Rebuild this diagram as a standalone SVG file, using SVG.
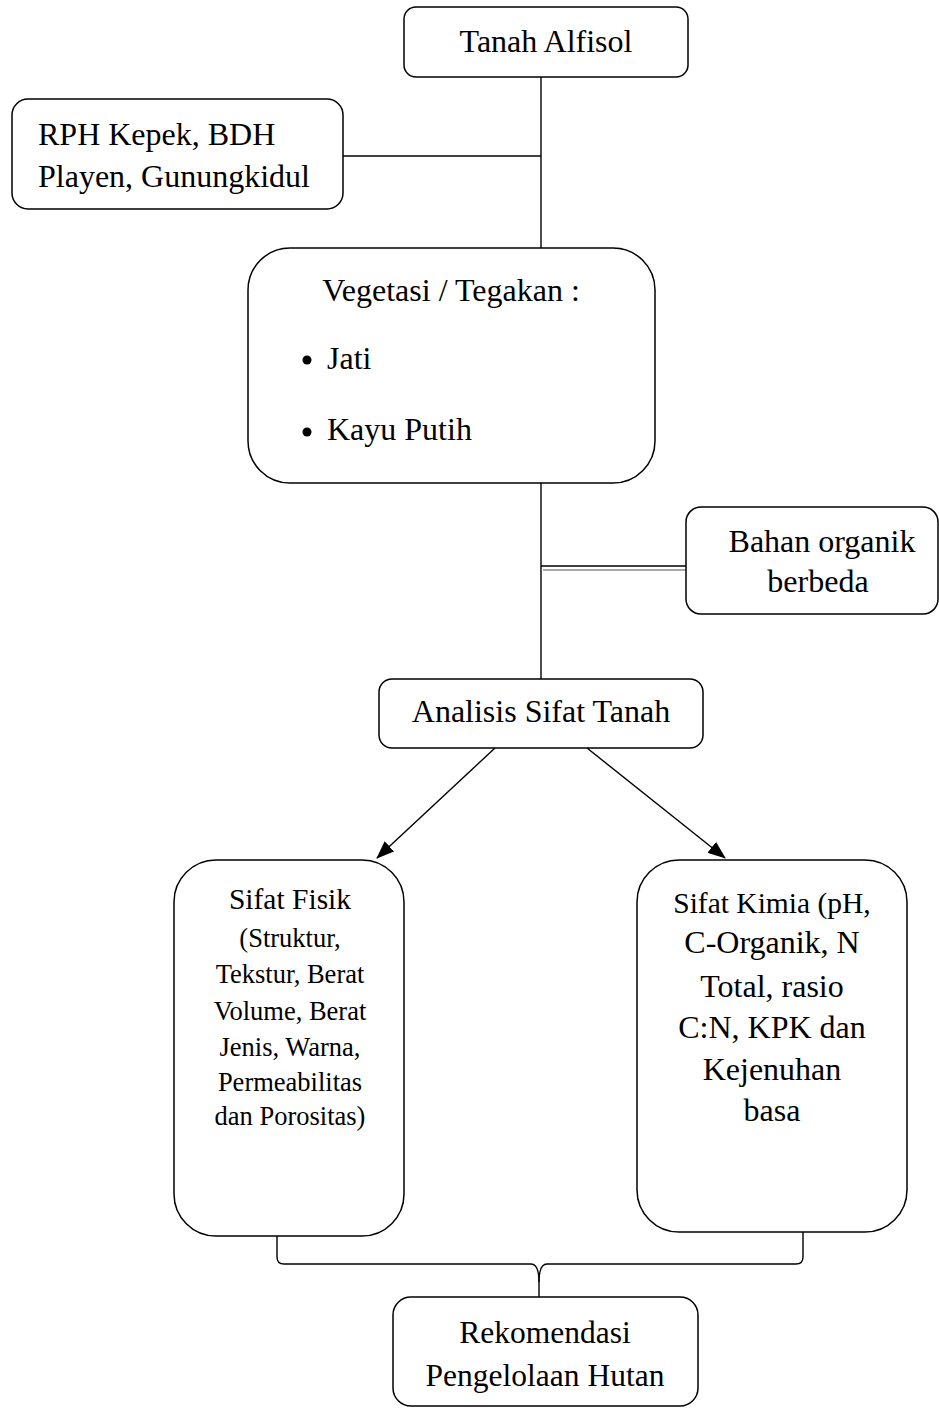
<svg xmlns="http://www.w3.org/2000/svg" width="939" height="1408" viewBox="0 0 939 1408">
<style>
.box{fill:#fff;stroke:#000;stroke-width:1.5}
.ln{fill:none;stroke:#000;stroke-width:1.4}
text{font-family:"Liberation Serif","Times New Roman",serif;fill:#000;font-size:32px}
.c{text-anchor:middle}
.s26{font-size:26.5px}
.s29{font-size:29.5px}
.s30{font-size:31.5px}
</style>
<defs>
<marker id="arr" markerUnits="userSpaceOnUse" markerWidth="18" markerHeight="14" refX="17" refY="7" orient="auto">
<path d="M0,0 L18,7 L0,14 Z" fill="#000"/>
</marker>
</defs>
<rect width="939" height="1408" fill="#fff"/>
<g id="connectors">
<line class="ln" x1="541" y1="77" x2="541" y2="248"/>
<line class="ln" x1="343" y1="156" x2="541" y2="156"/>
<line class="ln" x1="541" y1="483" x2="541" y2="679"/>
<line class="ln" x1="541" y1="566" x2="686" y2="566"/>
<line x1="543" y1="570" x2="686" y2="570" stroke="#aaa" stroke-width="2"/>
<line class="ln" x1="495" y1="748" x2="377" y2="858" marker-end="url(#arr)"/>
<line class="ln" x1="587" y1="748" x2="725" y2="858" marker-end="url(#arr)"/>
<path class="ln" d="M277,1236 L277,1257 Q277,1264 284,1264 L531,1264 Q539,1264 539,1282 L539,1297"/>
<path class="ln" d="M803,1232 L803,1257 Q803,1264 796,1264 L547,1264 Q539,1264 539,1282"/>
</g>
<g id="n-tanah">
<rect class="box" x="404" y="7" width="284" height="70" rx="12"/>
<text class="c" x="546" y="52">Tanah Alfisol</text>
</g>
<g id="n-rph">
<rect class="box" x="12" y="99" width="331" height="110" rx="16"/>
<text x="38" y="145">RPH Kepek, BDH</text>
<text x="38" y="187">Playen, Gunungkidul</text>
</g>
<g id="n-vegetasi">
<rect class="box" x="248" y="248" width="407" height="235" rx="42"/>
<text class="c" x="451" y="301">Vegetasi / Tegakan :</text>
<circle cx="307" cy="360" r="4.5" fill="#000"/>
<text x="327" y="369">Jati</text>
<circle cx="307" cy="432" r="4.5" fill="#000"/>
<text x="327" y="440">Kayu Putih</text>
</g>
<g id="n-bahan">
<rect class="box" x="686" y="507" width="252" height="107" rx="15"/>
<text class="c" x="822" y="552">Bahan organik</text>
<text class="c" x="818" y="592">berbeda</text>
</g>
<g id="n-analisis">
<rect class="box" x="379" y="679" width="324" height="69" rx="13"/>
<text class="c" x="541" y="722">Analisis Sifat Tanah</text>
</g>
<g id="n-fisik">
<rect class="box" x="174" y="860" width="230" height="376" rx="42"/>
<text class="c s29" x="290" y="909">Sifat Fisik</text>
<text class="c s26" x="290" y="947">(Struktur,</text>
<text class="c s26" x="290" y="983">Tekstur, Berat</text>
<text class="c s26" x="290" y="1020">Volume, Berat</text>
<text class="c s26" x="290" y="1056">Jenis, Warna,</text>
<text class="c s26" x="290" y="1091">Permeabilitas</text>
<text class="c s26" x="290" y="1125">dan Porositas)</text>
</g>
<g id="n-kimia">
<rect class="box" x="637" y="860" width="270" height="372" rx="42"/>
<text class="c s29" x="772" y="913">Sifat Kimia (pH,</text>
<text class="c" x="772" y="953">C-Organik, N</text>
<text class="c" x="772" y="997">Total, rasio</text>
<text class="c" x="772" y="1038">C:N, KPK dan</text>
<text class="c" x="772" y="1080">Kejenuhan</text>
<text class="c" x="772" y="1121">basa</text>
</g>
<g id="n-rekomendasi">
<rect class="box" x="393" y="1297" width="305" height="109" rx="18"/>
<text class="c s30" x="545" y="1343">Rekomendasi</text>
<text class="c s30" x="545" y="1386">Pengelolaan Hutan</text>
</g>
</svg>
